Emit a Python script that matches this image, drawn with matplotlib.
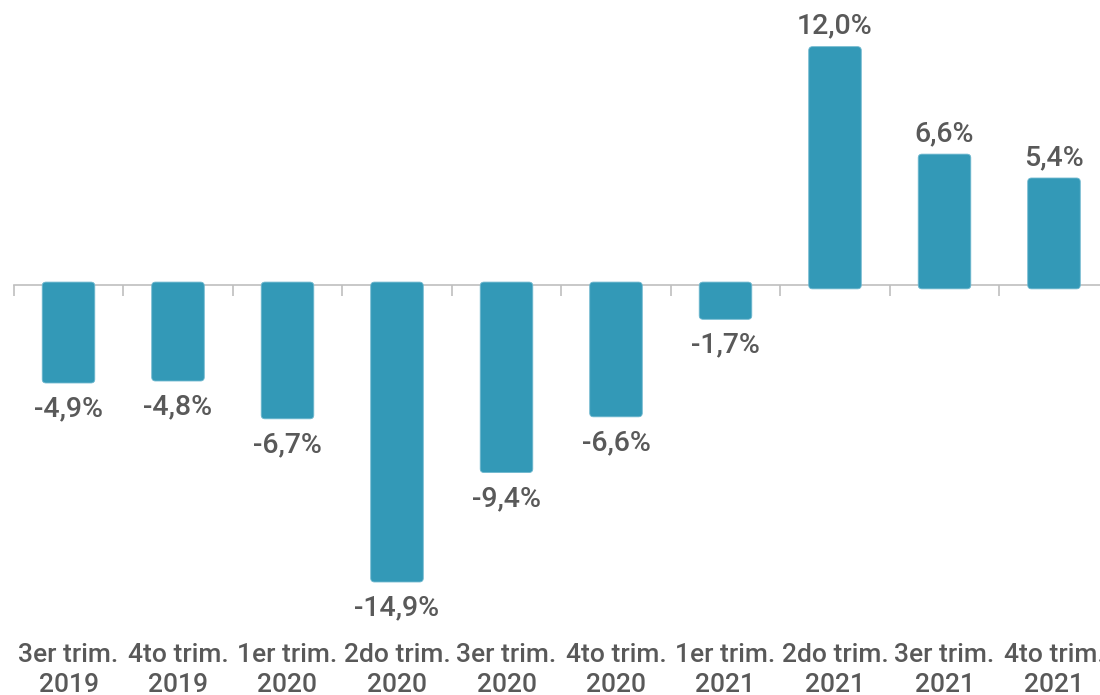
import matplotlib
matplotlib.use("Agg")
import matplotlib.pyplot as plt
from matplotlib.patches import FancyBboxPatch
import matplotlib.transforms as mtransforms

categories = ["3er trim.\n2019", "4to trim.\n2019", "1er trim.\n2020", "2do trim.\n2020",
              "3er trim.\n2020", "4to trim.\n2020", "1er trim.\n2021", "2do trim.\n2021",
              "3er trim.\n2021", "4to trim.\n2021"]
values = [-4.9, -4.8, -6.7, -14.9, -9.4, -6.6, -1.7, 12.0, 6.6, 5.4]
labels = ["-4,9%", "-4,8%", "-6,7%", "-14,9%", "-9,4%", "-6,6%", "-1,7%", "12,0%", "6,6%", "5,4%"]

BAR = "#3399B7"
TXT = "#595959"
AX = "#BFBFBF"
FONT = ["Roboto", "DejaVu Sans"]

fig = plt.figure(figsize=(11, 6.95), dpi=100)
ax = fig.add_axes([13.75/1100, 75/695, 1095/1100, 600/695])
n = len(values)
ax.set_xlim(-0.5, n - 0.5)
ax.set_ylim(-16.81, 13.34)

w = 0.48
bars = ax.bar(range(n), values, width=w, color="none")
r = 0.035
asp = 5.4
ext = 0.17
for i, (b, v) in enumerate(zip(bars, values)):
    x0 = b.get_x()
    if v >= 0:
        y0, h = -ext, v + ext
    else:
        y0, h = v, -v + ext
    p = FancyBboxPatch((x0, y0), w, h, boxstyle=f"round,pad=0,rounding_size={r}",
                       mutation_aspect=asp, facecolor=BAR, edgecolor="#6FB8CF", linewidth=0.6, zorder=3)
    ax.add_patch(p)
    if v >= 0:
        ax.annotate(labels[i], (i, v), xytext=(0, 5), textcoords="offset points",
                    ha="center", va="bottom", fontsize=20.5, color=TXT, family=FONT, weight="medium")
    else:
        ax.annotate(labels[i], (i, v), xytext=(0, -9), textcoords="offset points",
                    ha="center", va="top", fontsize=20.5, color=TXT, family=FONT, weight="medium")

for s in ["top", "right", "left"]:
    ax.spines[s].set_visible(False)
ax.spines["bottom"].set_position(("data", 0))
ax.spines["bottom"].set_color(AX)
ax.spines["bottom"].set_linewidth(1.2)
ax.set_yticks([])
ax.set_xticks([])
ax.set_xticks([i - 0.5 for i in range(n + 1)], minor=True)
ax.tick_params(axis="x", which="minor", length=8, color=AX, width=1.2, direction="out", labelbottom=False)

trans = mtransforms.blended_transform_factory(ax.transData, fig.transFigure)
for i, c in enumerate(categories):
    ax.text(i, 1 - 655/695, c.split("\n")[0], transform=trans, ha="center", va="center",
            fontsize=19, color=TXT, family=FONT, weight="medium")
    ax.text(i, 1 - 685/695, c.split("\n")[1], transform=trans, ha="center", va="center",
            fontsize=19, color=TXT, family=FONT, weight="medium")

fig.savefig("out.png", dpi=100)
